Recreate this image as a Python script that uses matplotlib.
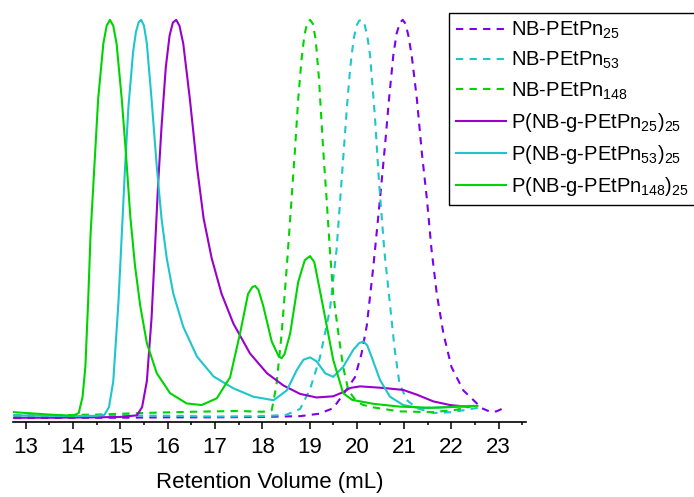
import matplotlib
matplotlib.use("Agg")
import matplotlib.pyplot as plt
from matplotlib.ticker import MultipleLocator

plt.rcParams['font.family'] = ['Liberation Sans', 'DejaVu Sans']
plt.rcParams['mathtext.fontset'] = 'custom'
plt.rcParams['mathtext.rm'] = 'Liberation Sans'
plt.rcParams['mathtext.default'] = 'regular'

# NB-PEtPn25 (dashed)
nb25_x = [12.75, 14.0, 15.0, 16.0, 17.0, 18.0, 18.8, 19.2, 19.5, 19.79, 19.96, 20.1, 20.21, 20.35,
          20.49, 20.6, 20.68, 20.77, 20.84, 20.91, 20.97, 21.03, 21.09, 21.16, 21.27, 21.37, 21.48,
          21.58, 21.69, 21.83, 22.0, 22.25, 22.46, 22.64, 22.82, 22.95, 23.1]
nb25_y = [-0.003, -0.002, -0.002, -0.001, -0.001, 0.0, 0.002, 0.008, 0.022, 0.07, 0.10, 0.16, 0.23, 0.38,
          0.55, 0.69, 0.80, 0.91, 0.965, 0.993, 1.0, 0.99, 0.96, 0.91, 0.80, 0.67, 0.55,
          0.42, 0.31, 0.21, 0.126, 0.067, 0.043, 0.022, 0.013, 0.014, 0.022]

# NB-PEtPn53 (dashed)
nb53_x = [12.75, 14.0, 15.0, 16.0, 17.0, 18.0, 18.5, 18.8, 19.01, 19.22, 19.43, 19.57, 19.68, 19.79,
          19.86, 19.93, 19.99, 20.05, 20.10, 20.16, 20.22, 20.28, 20.38, 20.47, 20.58, 20.69, 20.8,
          20.9, 21.05, 21.27, 21.62, 22.0, 22.32, 22.65]
nb53_y = [0.003, 0.003, 0.004, 0.003, 0.001, 0.002, 0.005, 0.02, 0.07, 0.15, 0.27, 0.42, 0.60, 0.78,
          0.88, 0.95, 0.985, 0.998, 1.0, 0.99, 0.96, 0.91, 0.76, 0.59, 0.42, 0.295, 0.17,
          0.085, 0.043, 0.022, 0.01, 0.012, 0.018, 0.025]

# NB-PEtPn148 (dashed)
nb148_x = [12.75, 13.5, 14.5, 15.5, 16.5, 17.5, 18.0, 18.2, 18.3, 18.41, 18.52, 18.62, 18.69, 18.76,
           18.83, 18.89, 18.95, 19.01, 19.07, 19.13, 19.2, 19.29, 19.36, 19.43, 19.5, 19.61, 19.71,
           19.82, 20.0, 20.14, 20.35, 20.9, 21.6, 22.1, 22.55]
nb148_y = [0.004, 0.004, 0.006, 0.010, 0.013, 0.015, 0.013, 0.017, 0.08, 0.21, 0.38, 0.55, 0.67, 0.80,
           0.90, 0.96, 0.993, 1.0, 0.99, 0.95, 0.85, 0.67, 0.55, 0.42, 0.31, 0.21, 0.126,
           0.067, 0.038, 0.030, 0.024, 0.014, 0.012, 0.018, 0.03]

# P(NB-g-PEtPn25)25 (solid)
p25_x = [12.75, 13.5, 14.5, 15.0, 15.35, 15.46, 15.56, 15.66, 15.73, 15.80, 15.87, 15.96, 16.04,
         16.11, 16.18, 16.25, 16.33, 16.47, 16.62, 16.76, 16.93, 17.14, 17.39, 17.74, 18.1, 18.45,
         18.8, 19.15, 19.5, 19.7, 19.86, 20.07, 20.56, 20.98, 21.27, 21.62, 21.97, 22.32]
p25_y = [-0.002, -0.002, -0.001, 0.0, 0.004, 0.025, 0.09, 0.25, 0.42, 0.59, 0.73, 0.88, 0.96,
         0.993, 1.0, 0.985, 0.94, 0.80, 0.63, 0.50, 0.40, 0.31, 0.235, 0.16, 0.11, 0.079,
         0.058, 0.049, 0.052, 0.062, 0.073, 0.077, 0.073, 0.068, 0.056, 0.039, 0.03, 0.026]

# P(NB-g-PEtPn53)25 (solid)
p53_x = [12.75, 13.5, 14.0, 14.5, 14.66, 14.76, 14.85, 14.96, 15.03, 15.1, 15.17, 15.27, 15.33,
         15.39, 15.44, 15.5, 15.56, 15.66, 15.77, 15.87, 15.98, 16.12, 16.33, 16.62, 16.97, 17.39,
         17.81, 18.24, 18.52, 18.73, 18.87, 19.01, 19.15, 19.33, 19.5, 19.71, 19.93, 20.05, 20.14,
         20.22, 20.31, 20.49, 20.70, 20.98, 21.34, 21.97, 22.4]
p53_y = [0.004, 0.003, 0.002, 0.003, 0.005, 0.025, 0.09, 0.29, 0.46, 0.63, 0.78, 0.92, 0.97,
         0.995, 1.0, 0.985, 0.94, 0.80, 0.63, 0.50, 0.40, 0.31, 0.227, 0.152, 0.102, 0.072,
         0.051, 0.042, 0.067, 0.118, 0.144, 0.150, 0.14, 0.11, 0.101, 0.126, 0.17, 0.186, 0.19,
         0.18, 0.152, 0.093, 0.051, 0.03, 0.022, 0.025, 0.028]

# P(NB-g-PEtPn148)25 (solid)
p148_x = [12.75, 13.0, 13.5, 14.0, 14.12, 14.2, 14.26, 14.32, 14.37, 14.45, 14.53, 14.64, 14.71,
          14.78, 14.85, 14.92, 15.03, 15.12, 15.21, 15.31, 15.42, 15.56, 15.77, 16.05, 16.4, 16.72,
          17.04, 17.32, 17.53, 17.7, 17.79, 17.85, 17.92, 18.02, 18.2, 18.35, 18.41, 18.47, 18.59,
          18.76, 18.9, 19.01, 19.1, 19.2, 19.33, 19.5, 19.71, 19.9, 20.35, 20.91, 21.6, 22.55]
p148_y = [0.012, 0.010, 0.006, 0.003, 0.01, 0.05, 0.126, 0.295, 0.46, 0.63, 0.80, 0.94, 0.985,
          1.0, 0.985, 0.94, 0.80, 0.66, 0.505, 0.38, 0.28, 0.186, 0.11, 0.06, 0.034, 0.03,
          0.047, 0.10, 0.21, 0.31, 0.327, 0.33, 0.32, 0.28, 0.19, 0.152, 0.148, 0.158, 0.21,
          0.34, 0.395, 0.405, 0.39, 0.33, 0.25, 0.144, 0.06, 0.043, 0.033, 0.026, 0.023, 0.028]

labels = ['NB-PEtPn$_{25}$', 'NB-PEtPn$_{53}$', 'NB-PEtPn$_{148}$',
          'P(NB-g-PEtPn$_{25}$)$_{25}$', 'P(NB-g-PEtPn$_{53}$)$_{25}$',
          'P(NB-g-PEtPn$_{148}$)$_{25}$']

c_violet = '#7b00ee'
c_purple = '#9a00cc'
c_cyan = '#1ec6cc'
c_green = '#00d400'

fig = plt.figure(figsize=(6.94, 4.97), dpi=100)
ax = fig.add_axes([13 / 694, 75.3 / 497, (525.7 - 13) / 694, 421.7 / 497])

dash = (3.5, 3)
lw = 1.5
ax.plot(nb25_x, nb25_y, color=c_violet, lw=lw, dashes=dash, label=labels[0])
ax.plot(nb53_x, nb53_y, color=c_cyan, lw=lw, dashes=dash, label=labels[1])
ax.plot(nb148_x, nb148_y, color=c_green, lw=lw, dashes=dash, label=labels[2])
ax.plot(p25_x, p25_y, color=c_purple, lw=lw, label=labels[3])
ax.plot(p53_x, p53_y, color=c_cyan, lw=lw, label=labels[4])
ax.plot(p148_x, p148_y, color=c_green, lw=lw, label=labels[5])

ax.set_xlim(12.73, 23.57)
ax.set_ylim(-0.012, 1.05)

for s in ['top', 'left', 'right']:
    ax.spines[s].set_visible(False)
ax.spines['bottom'].set_linewidth(1.2)
ax.set_yticks([])
ax.xaxis.set_major_locator(MultipleLocator(1))
ax.xaxis.set_minor_locator(MultipleLocator(0.5))
ax.tick_params(axis='x', which='major', length=5, width=1.1, labelsize=16, pad=6)
ax.tick_params(axis='x', which='minor', length=2.5, width=1.1)
ax.set_xlabel('Retention Volume (mL)', fontsize=16, labelpad=10)

leg = fig.legend(loc='upper left', bbox_to_anchor=(449 / 694, 1 - 12.7 / 497),
                 fontsize=14.5, frameon=True, fancybox=False, framealpha=1,
                 edgecolor='black', handlelength=2.5, handletextpad=0.25,
                 borderpad=0.35, labelspacing=0.45, borderaxespad=0)
leg.get_frame().set_linewidth(1.0)

fig.savefig('out.png', dpi=100)
